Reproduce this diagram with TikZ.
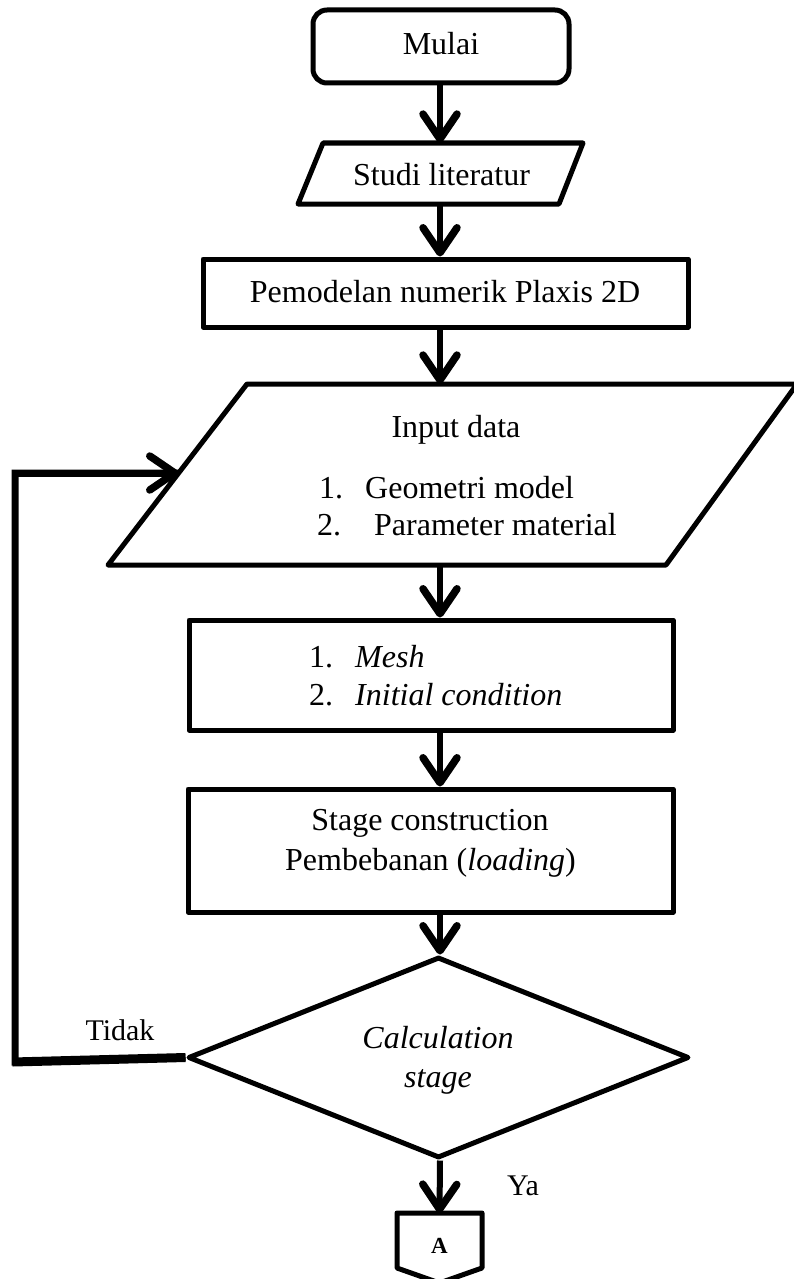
\documentclass[tikz,border=0pt]{standalone}
\usepackage{fontspec}
\setmainfont{Liberation Serif}
\usetikzlibrary{arrows.meta,shapes.geometric,calc}
\begin{document}
\begin{tikzpicture}[x=1pt,y=-1pt,
  shp/.style={draw=black,line width=5pt,line join=round},
  arr/.style={draw=black,line width=6pt,-{Straight Barb[length=25pt,width=34pt,line width=7.5pt,round]}},
  fb/.style={draw=black,line width=7pt,line join=miter},
  txt/.style={font=\fontsize{32}{38}\selectfont,inner sep=0pt,anchor=base},
  txtl/.style={font=\fontsize{32}{38}\selectfont,inner sep=0pt,anchor=base west},
  lbl/.style={font=\fontsize{30}{36}\selectfont,inner sep=0pt,anchor=base},
  area/.style={inner sep=0pt,draw=none},
]
\useasboundingbox (0,0) rectangle (794,1279);
\clip (0,0) rectangle (794,1279);
\fill[white] (0,0) rectangle (794,1279);

% Mulai
\node[shp,rounded corners=14pt,minimum width=256pt,minimum height=73pt,inner sep=0pt] (mulai) at (441,46.5) {};
\node[txt] (tmulai) at (441,55) {Mulai};

% Studi literatur (parallelogram)
\node[area,minimum width=260pt,minimum height=61pt] (studi) at (440.5,173.5) {};
\draw[shp] (323,143) -- (583,143) -- (559,204) -- (298,204) -- cycle;
\node[txt] (tstudi) at (441.5,185) {Studi literatur};

% Pemodelan
\node[shp,minimum width=485pt,minimum height=68pt,inner sep=0pt] (pem) at (445.5,293) {};
\node[txt] (tpem) at (445,302) {Pemodelan numerik Plaxis 2D};

% Input data (parallelogram)
\node[area,minimum width=400pt,minimum height=181pt] (input) at (440,474.5) {};
\draw[shp] (247,384) -- (797,384) -- (666,565) -- (108,565) -- cycle;
\node[txt] (tinput) at (456,437) {Input data};
\node[txtl] (tgeo) at (319,498) {\makebox[46pt][l]{1.}Geometri model};
\node[txtl] (tpar) at (317,535) {\makebox[57pt][l]{2.}Parameter material};

% Mesh / initial condition
\node[shp,minimum width=484pt,minimum height=110pt,inner sep=0pt] (mesh) at (431,675) {};
\node[txtl] (tmesh) at (309,667) {\makebox[46pt][l]{1.}\textit{Mesh}};
\node[txtl] (tinit) at (309,705) {\makebox[46pt][l]{2.}\textit{Initial condition}};

% Stage construction
\node[shp,minimum width=485pt,minimum height=123pt,inner sep=0pt] (stage) at (430.5,850.5) {};
\node[txt] (tstage) at (430,830) {Stage construction};
\node[txt] (tload) at (430.5,870) {Pembebanan (\textit{loading})};

% Decision
\node[shp,diamond,minimum width=501pt,minimum height=201pt,inner sep=0pt] (dec) at (438.5,1057.5) {};
\node[txt] (tcalc) at (438,1048) {\textit{Calculation}};
\node[txt] (tcst) at (438,1087) {\textit{stage}};
\node[lbl] (ttidak) at (120,1040) {Tidak};
\node[lbl] (tya) at (523,1195) {Ya};

% Off-page connector A
\coordinate (conTop) at (439.5,1213);
\draw[shp] (397,1213) -- (482,1213) -- (482,1268) -- (439.5,1283) -- (397,1268) -- cycle;
\node[font=\fontsize{23}{28}\selectfont\bfseries,inner sep=0pt,anchor=base] (conA) at (439.5,1253) {A};

% Connectors
\coordinate (col) at (440,0);
\draw[arr] (mulai.south -| col) -- (studi.north -| col);
\draw[arr] (studi.south -| col) -- (pem.north -| col);
\draw[arr] (pem.south -| col) -- (input.north -| col);
\draw[arr] (input.south -| col) -- (mesh.north -| col);
\draw[arr] (mesh.south -| col) -- (stage.north -| col);
\draw[arr] (stage.south -| col) -- (dec.north -| col);
\draw[arr] (dec.south -| col) -- (conTop);

% Feedback loop
\coordinate (fbA) at (15,1062);
\coordinate (fbB) at (15,473);
\coordinate (fbC) at (178.5,473);
\draw[fb] (dec.west) -- (fbA) -- (fbB) -- (fbC);
\draw[fb,line width=9pt,line cap=butt] (dec.west) -- ($(fbA)+(-2.5,0)$);
\draw[arr,line width=7pt] (fbB) -- (fbC);
\end{tikzpicture}
\end{document}
